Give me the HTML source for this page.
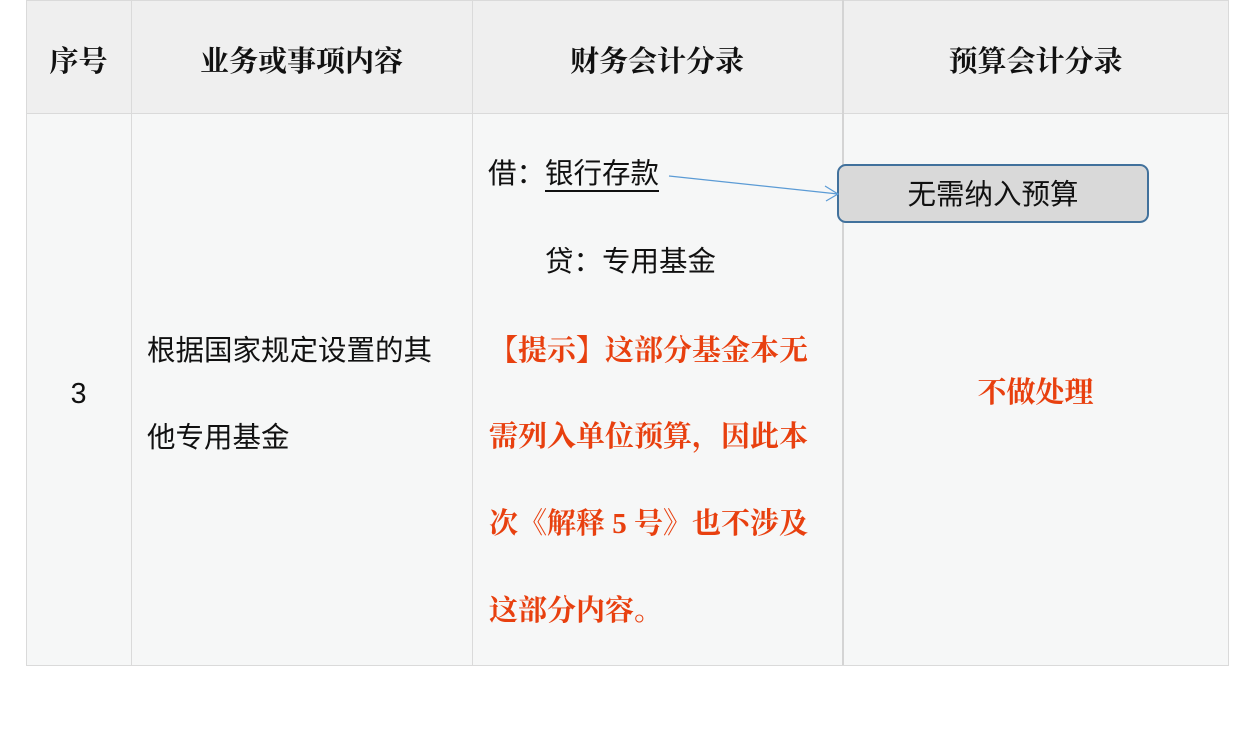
<!DOCTYPE html>
<html><head><meta charset="utf-8"><style>
body{margin:0;width:1252px;height:732px;background:#fff;position:relative;overflow:hidden;font-family:"Liberation Sans","Noto Sans CJK SC",sans-serif;}
.a{position:absolute;white-space:nowrap;}
.h{font-family:"Liberation Serif","Noto Serif CJK SC",serif;font-weight:bold;font-size:29px;color:#111;}
.t{font-size:28.5px;color:#111;line-height:1;}
.r{font-family:"Liberation Serif","Noto Serif CJK SC",serif;font-weight:bold;font-size:29px;color:#e8400f;line-height:1;}
</style></head><body>
<div class="a" style="left:26px;top:0;width:1202px;height:113px;background:#efefef"></div>
<div class="a" style="left:26px;top:113px;width:1202px;height:552px;background:#f6f7f7"></div>
<div class="a" style="left:26px;top:0;width:1201px;height:664px;border:1px solid #dadada"></div>
<div class="a" style="left:26px;top:113px;width:1202px;height:1px;background:#dadada"></div>
<div class="a" style="left:131px;top:0;width:1px;height:665px;background:#dadada"></div>
<div class="a" style="left:472px;top:0;width:1px;height:665px;background:#dadada"></div>
<div class="a" style="left:842px;top:0;width:2px;height:665px;background:#d4d4d4"></div>

<div class="a h" style="left:26px;width:105px;top:39px;text-align:center">序号</div>
<div class="a h" style="left:131px;width:341px;top:39px;text-align:center">业务或事项内容</div>
<div class="a h" style="left:472px;width:370px;top:39px;text-align:center">财务会计分录</div>
<div class="a h" style="left:843px;width:385px;top:39px;text-align:center">预算会计分录</div>

<div class="a t" style="left:26px;width:105px;top:380px;text-align:center">3</div>
<div class="a t" style="left:147px;top:337px">根据国家规定设置的其</div>
<div class="a t" style="left:147px;top:424px">他专用基金</div>

<div class="a t" style="left:488px;top:160px">借：<span style="border-bottom:2px solid #111">银行存款</span></div>
<div class="a t" style="left:545px;top:248px">贷：专用基金</div>

<div class="a r" style="left:489px;top:337px">【提示】这部分基金本无</div>
<div class="a r" style="left:489px;top:423px">需列入单位预算，因此本</div>
<div class="a r" style="left:489px;top:510px">次《解释 5 号》也不涉及</div>
<div class="a r" style="left:489px;top:597px">这部分内容。</div>

<div class="a r" style="left:843px;width:385px;top:379px;text-align:center">不做处理</div>

<div class="a" style="left:837px;top:164px;width:308px;height:55px;background:#d9d9d9;border:2px solid #41719c;border-radius:9px;"></div>
<div class="a t" style="left:837px;width:312px;top:181px;text-align:center">无需纳入预算</div>
<svg class="a" style="left:0;top:0" width="1252" height="732"><line x1="669" y1="176" x2="838" y2="194" stroke="#5b9bd5" stroke-width="1.2"/><polyline points="825,186 838,194 826,201" fill="none" stroke="#5b9bd5" stroke-width="1.2"/></svg>
</body></html>
